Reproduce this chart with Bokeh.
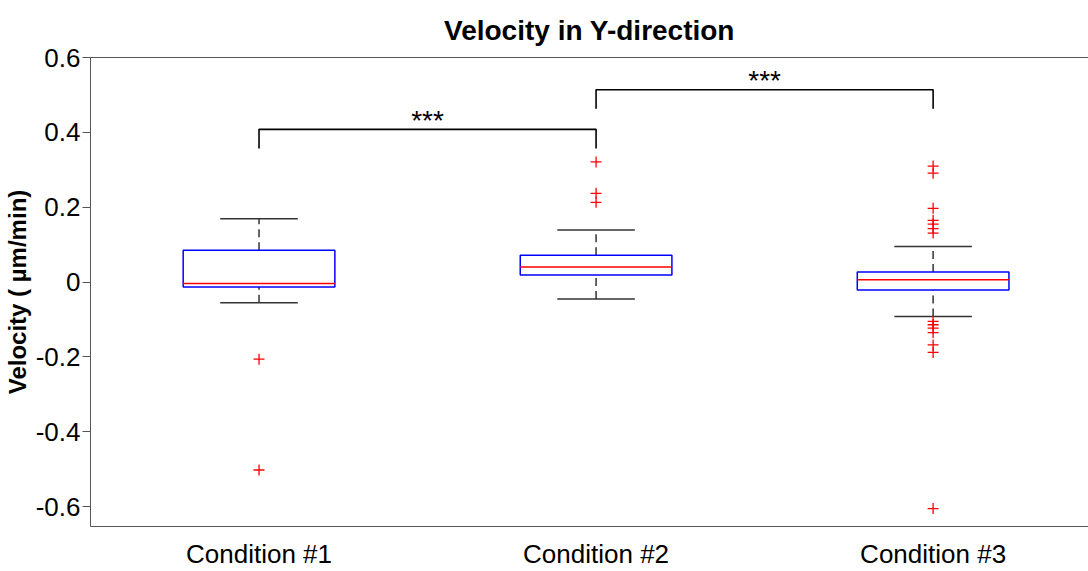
from bokeh.plotting import figure
from bokeh.models import Range1d, FixedTicker, LinearAxis, Title
from bokeh.core.properties import value
from bokeh.embed import file_html
from bokeh.resources import INLINE

# ---- data ----
conditions = ["Condition #1", "Condition #2", "Condition #3"]
positions = [1, 2, 3]
q1 = [-0.013, 0.019, -0.021]
medians = [-0.004, 0.040, 0.006]
q3 = [0.085, 0.072, 0.027]
whisker_lo = [-0.055, -0.045, -0.092]
whisker_hi = [0.169, 0.139, 0.095]
outliers_1 = [-0.206, -0.502]
outliers_2 = [0.321, 0.237, 0.213]
outliers_3 = [0.310, 0.291, 0.197, 0.165, 0.155, 0.143, 0.131,
              -0.105, -0.114, -0.123, -0.135, -0.168, -0.188, -0.605]
outliers = [outliers_1, outliers_2, outliers_3]

# significance brackets: (from, to, bar height, leg bottom, label)
sig_from = [1, 2]
sig_to = [2, 3]
sig_height = [0.408, 0.514]
sig_leg = [0.357, 0.463]
sig_label = ["***", "***"]

y_ticks = [-0.6, -0.4, -0.2, 0, 0.2, 0.4, 0.6]
y_tick_labels = ["-0.6", "-0.4", "-0.2", "0", "0.2", "0.4", "0.6"]

BOX_W = 0.45
CAP_W = 0.23

FONT = "Liberation Sans"

p = figure(width=1088, height=571, output_backend="svg", toolbar_location=None,
           x_range=Range1d(0.5, 3.461), y_range=Range1d(-0.653, 0.6),
           min_border_left=90, min_border_right=0, min_border_top=57,
           min_border_bottom=44)
p.title = Title(text="Velocity in Y-direction", align="center",
                text_font=FONT, text_font_size="28px", text_font_style="bold",
                text_color="black", offset=5, standoff=24)
p.grid.visible = False
p.outline_line_color = None
p.background_fill_color = "white"
p.border_fill_color = "white"

# axes
p.yaxis.ticker = FixedTicker(ticks=y_ticks)
p.yaxis.major_label_overrides = {t: l for t, l in zip(y_ticks, y_tick_labels)}
p.yaxis.axis_label = "Velocity ( \u00b5m/min)"
p.yaxis.axis_label_text_font = FONT
p.yaxis.axis_label_text_font_size = "24px"
p.yaxis.axis_label_text_font_style = "bold"
p.yaxis.axis_label_text_color = "black"
p.yaxis.axis_label_standoff = 2
p.yaxis.major_label_text_font = FONT
p.yaxis.major_label_text_font_size = "26px"
p.yaxis.major_label_text_color = "black"
p.yaxis.major_tick_out = 8
p.yaxis.major_tick_in = 0
p.yaxis.minor_tick_line_color = None
p.yaxis.axis_line_color = "#555555"
p.yaxis.major_tick_line_color = "#555555"
p.yaxis.major_label_standoff = 2

p.xaxis.ticker = FixedTicker(ticks=positions)
p.xaxis.major_label_overrides = {x: c for x, c in zip(positions, conditions)}
p.xaxis.major_label_text_font = FONT
p.xaxis.major_label_text_font_size = "26px"
p.xaxis.major_label_text_color = "black"
p.xaxis.major_tick_line_color = None
p.xaxis.major_tick_out = 0
p.xaxis.major_tick_in = 0
p.xaxis.minor_tick_line_color = None
p.xaxis.minor_tick_out = 0
p.xaxis.axis_line_color = "#555555"
p.xaxis.major_label_standoff = 12

top_axis = LinearAxis(ticker=FixedTicker(ticks=[]), axis_line_color="#555555",
                      major_tick_line_color=None, minor_tick_line_color=None,
                      major_tick_out=0, minor_tick_out=0, major_label_standoff=0,
                      major_label_text_font_size="0px")
p.add_layout(top_axis, "above")

# whiskers (dashed)
p.segment(x0=positions, y0=q3, x1=positions, y1=whisker_hi,
          line_color="#333333", line_width=1.5, line_dash="8 5")
p.segment(x0=positions, y0=whisker_lo, x1=positions, y1=q1,
          line_color="#333333", line_width=1.5, line_dash="8 5")
# caps
p.segment(x0=[x - CAP_W / 2 for x in positions], y0=whisker_hi,
          x1=[x + CAP_W / 2 for x in positions], y1=whisker_hi,
          line_color="#333333", line_width=1.5)
p.segment(x0=[x - CAP_W / 2 for x in positions], y0=whisker_lo,
          x1=[x + CAP_W / 2 for x in positions], y1=whisker_lo,
          line_color="#333333", line_width=1.5)
# boxes
p.quad(left=[x - BOX_W / 2 for x in positions], right=[x + BOX_W / 2 for x in positions],
       bottom=q1, top=q3, fill_color=None, line_color="#0000ff", line_width=1.5)
# medians
p.segment(x0=[x - BOX_W / 2 for x in positions], y0=medians,
          x1=[x + BOX_W / 2 for x in positions], y1=medians,
          line_color="#ff0000", line_width=1.5)
# outliers
ox, oy = [], []
for x, vals in zip(positions, outliers):
    for v in vals:
        ox.append(x)
        oy.append(v)
p.scatter(ox, oy, marker="cross", size=11, line_color="#ff0000", line_width=1.3)

# significance brackets
bx, by = [], []
for a, b, h, leg in zip(sig_from, sig_to, sig_height, sig_leg):
    bx.append([a, a, b, b])
    by.append([leg, h, h, leg])
p.multi_line(bx, by, line_color="black", line_width=1.6)
p.text(x=[(a + b) / 2 for a, b in zip(sig_from, sig_to)],
       y=sig_height, y_offset=-9, text=sig_label,
       text_font=value(FONT), text_font_size="28px", text_color="black",
       text_align="center", text_baseline="alphabetic")

open("out.html", "w").write(file_html(p, INLINE))
